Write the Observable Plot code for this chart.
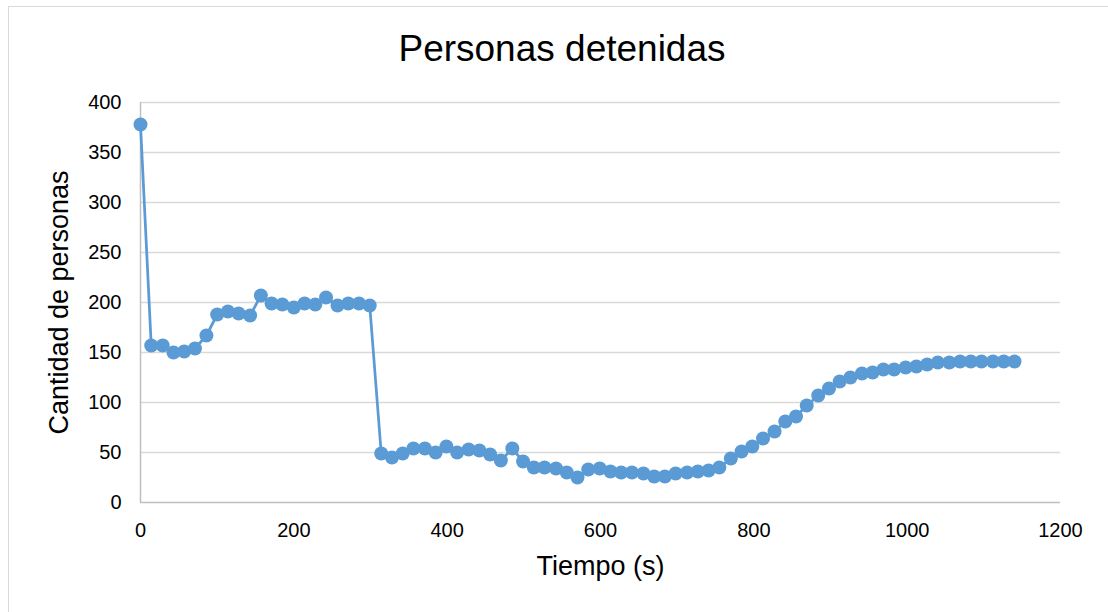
<!DOCTYPE html>
<html><head><meta charset="utf-8">
<script src="https://cdn.jsdelivr.net/npm/d3@7"></script>
<script src="https://cdn.jsdelivr.net/npm/@observablehq/plot@0.6"></script>
<style>
body{margin:0;background:#fff;font-family:"Liberation Sans",Arial,sans-serif;}
#wrap{position:relative;width:1108px;height:612px;overflow:hidden;background:#fff;}
#frame{position:absolute;left:8px;top:6px;width:1200px;height:700px;border-left:1px solid #d9d9d9;border-top:1px solid #d9d9d9;}
#title{position:absolute;left:0;width:1124px;top:30px;text-align:center;font-size:37px;color:#000;line-height:1;}
#chart{position:absolute;left:0;top:0;}
</style></head><body>
<div id="wrap"><div id="frame"></div><div id="chart"></div><div id="title">Personas detenidas</div></div>
<script>
const tiempo = [0,14,29,43,57,71,86,100,114,128,143,157,171,185,200,214,228,242,257,271,285,299,314,328,342,356,371,385,399,413,428,442,456,470,485,499,513,527,542,556,570,584,599,613,627,641,656,670,684,698,713,727,741,755,770,784,798,812,827,841,855,869,884,898,912,926,941,955,969,983,998,1012,1026,1040,1055,1069,1083,1097,1112,1126,1140];
const personas = [378,157,157,150,151,154,167,188,191,189,187,207,199,198,195,199,198,205,197,199,199,197,49,45,49,54,54,50,56,50,53,52,48,42,54,41,35,35,34,30,25,33,34,31,30,30,29,26,26,29,30,31,32,35,44,51,56,64,71,81,86,97,107,114,121,125,129,130,133,133,135,136,138,140,140,141,141,141,141,141,141];
const xTicks = [0,200,400,600,800,1000,1200];
const yTicks = [0,50,100,150,200,250,300,350,400];
const tituloX = "Tiempo (s)";
const tituloY = "Cantidad de personas";
const data = tiempo.map((t,i)=>({t, p: personas[i]}));
const font = "Liberation Sans, Arial, sans-serif";
const plot = Plot.plot({
  width:1108, height:612,
  marginLeft:140, marginRight:48, marginTop:102, marginBottom:110,
  style:{fontFamily:font, fontSize:"20px", color:"#000", background:"transparent", overflow:"visible"},
  x:{domain:[0,1200], label:null},
  y:{domain:[0,400], label:null},
  marks:[
    Plot.gridY(yTicks.slice(1),{stroke:"#d9d9d9", strokeOpacity:1, strokeWidth:1.5}),
    Plot.ruleY([0],{stroke:"#bfbfbf", strokeWidth:1.5}),
    Plot.ruleX([0],{stroke:"#bfbfbf", strokeWidth:1.5}),
    Plot.axisX(xTicks,{tickSize:0, tickPadding:20, label:null, fontSize:20, fill:"#000", tickFormat:d=>String(d)}),
    Plot.axisY(yTicks,{tickSize:0, tickPadding:19, label:null, fontSize:20, fill:"#000", tickFormat:d=>String(d)}),
    Plot.line(data,{x:"t", y:"p", stroke:"#5B9BD5", strokeWidth:2.75}),
    Plot.dot(data,{x:"t", y:"p", r:7, fill:"#5B9BD5", stroke:"none"}),
    Plot.text([tituloX],{text:d=>d, frameAnchor:"bottom", dy:72, fontSize:27, fill:"#000"}),
    Plot.text([tituloY],{text:d=>d, frameAnchor:"left", textAnchor:"middle", dx:-81, rotate:-90, fontSize:27, fill:"#000"})
  ]
});
document.getElementById("chart").appendChild(plot);
</script>
</body></html>
